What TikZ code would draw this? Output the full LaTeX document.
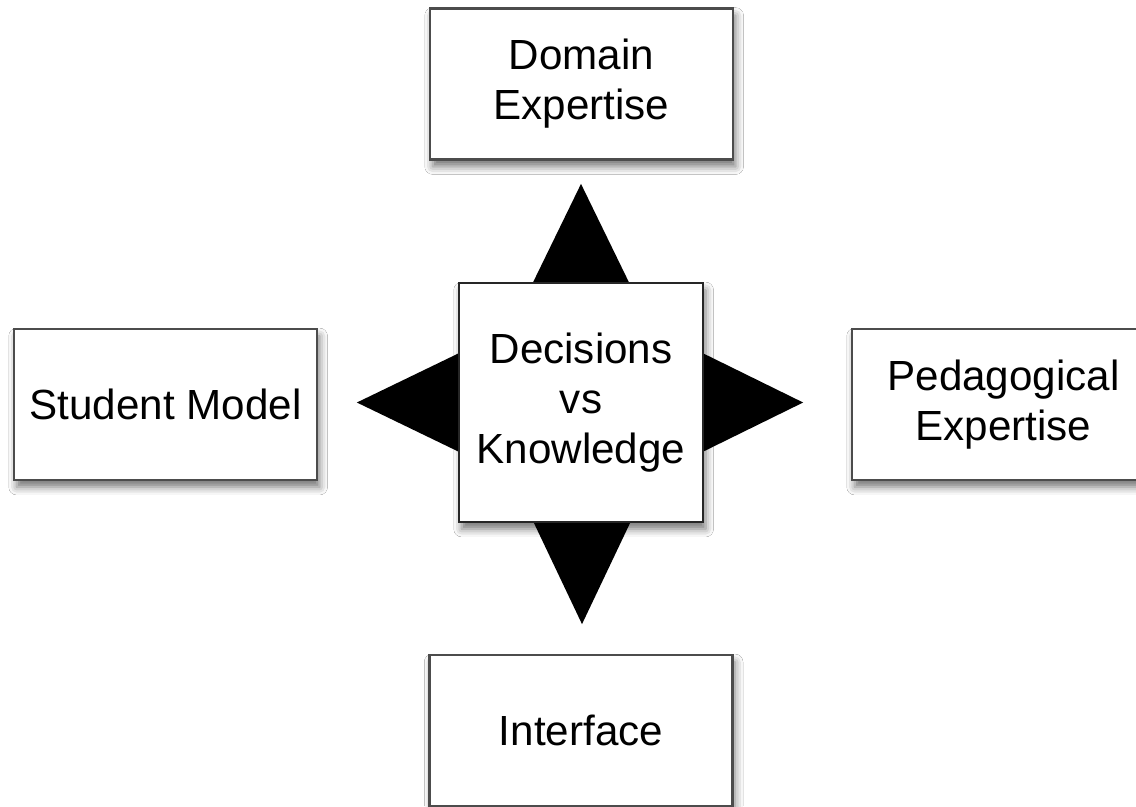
\documentclass[tikz,border=0pt]{standalone}
\usepackage{fontspec}
\setmainfont{Liberation Sans}
\usetikzlibrary{shadows.blur,backgrounds}
\tikzset{
  box/.style={draw=black!70, line width=1.3pt, fill=white,
    minimum width=6.06cm, minimum height=3.02cm, inner sep=0pt,
    align=center, font=\fontsize{24}{28.5}\selectfont,
    blur shadow={shadow xshift=1.5pt, shadow yshift=-4pt,
      shadow blur radius=4.5pt, shadow opacity=55}},
  hub/.style={box, draw=black!85, minimum width=4.88cm, minimum height=4.78cm},
  head/.style={fill=black}
}
\begin{document}
\begin{tikzpicture}[x=0.02cm,y=-0.02cm]
\clip (0,0) rectangle (1136,806);
% the five boxes
\node[hub] (dk) at (581,402.5) {Decisions\\vs\\Knowledge};
\node[box] (domain) at (581.5,84) {Domain\\Expertise};
\node[box] (student) at (165.5,404.5) {Student Model};
\node[box] (pedagogy) at (1003.5,404.5) {Pedagogical\\Expertise};
\node[box] (interface) at (581,730.5) {Interface};
% tips of the four heads
\coordinate (tipN) at ([shift={(0,-98)}]dk.north);
\coordinate (tipS) at ([shift={(1,101)}]dk.south);
\coordinate (tipW) at ([shift={(-101,0)}]dk.west);
\coordinate (tipE) at ([shift={(99,0)}]dk.east);
% heads go under the centre box
\begin{scope}[on background layer]
\fill[white] (0,0) rectangle (1136,806);
\fill[head] (tipN) -- ([shift={(-57.5,20)}]dk.north) -- ([shift={(57.5,20)}]dk.north) -- cycle;
\fill[head] (tipS) -- ([shift={(-56.5,-20)}]dk.south) -- ([shift={(58.5,-20)}]dk.south) -- cycle;
\fill[head] (tipW) -- ([shift={(20,-58.5)}]dk.west) -- ([shift={(20,58.5)}]dk.west) -- cycle;
\fill[head] (tipE) -- ([shift={(-20,-58.5)}]dk.east) -- ([shift={(-20,58.5)}]dk.east) -- cycle;
\end{scope}
\end{tikzpicture}
\end{document}
